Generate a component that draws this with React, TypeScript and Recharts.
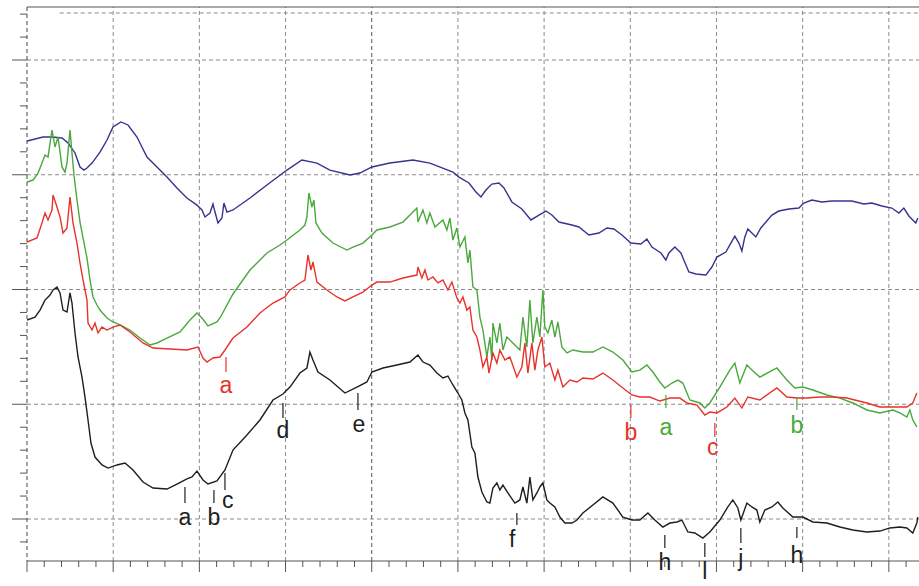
import React from 'react';
import { LineChart, Line, XAxis, YAxis, ReferenceLine, ReferenceDot } from 'recharts';

// Axis extents (major grid step = 1 unit on both axes)
const X_MAX = 10.35;
const Y_MIN = -0.366;
const Y_MAX = 4.462;

const X_TICKS = Array.from({ length: 52 }, (_, i) => +(i * 0.2).toFixed(1));
const Y_TICKS = Array.from({ length: 24 }, (_, i) => +(-0.2 + i * 0.2).toFixed(1));
const X_GRID = [1, 2, 3, 4, 5, 6, 7, 8, 9, 10];
const Y_GRID = [0, 1, 2, 3, 4];

// Spectra as [x, y] pairs
const blueTrace: [number, number][] = [
  [0, 3.294], [0.186, 3.329], [0.29, 3.329], [0.406, 3.32], [0.476, 3.277], [0.557, 3.19], [0.615, 3.068],
  [0.661, 3.041], [0.696, 3.059], [0.754, 3.102], [0.847, 3.198], [0.928, 3.303], [0.998, 3.416], [1.09, 3.46],
  [1.172, 3.434], [1.276, 3.329], [1.392, 3.155], [1.508, 3.068], [1.624, 2.98], [1.74, 2.885], [1.856, 2.797],
  [1.972, 2.736], [2.03, 2.693], [2.065, 2.632], [2.123, 2.667], [2.158, 2.745], [2.181, 2.675], [2.216, 2.58],
  [2.262, 2.623], [2.285, 2.754], [2.32, 2.675], [2.39, 2.693], [2.587, 2.797], [2.784, 2.911], [3.016, 3.041],
  [3.19, 3.129], [3.364, 3.102], [3.515, 3.041], [3.747, 2.998], [3.863, 3.015], [4.002, 3.068], [4.211, 3.102],
  [4.478, 3.129], [4.675, 3.102], [4.942, 3.024], [5.012, 2.98], [5.128, 2.928], [5.209, 2.85], [5.267, 2.806],
  [5.325, 2.867], [5.394, 2.919], [5.476, 2.928], [5.534, 2.885], [5.626, 2.763], [5.742, 2.702], [5.847, 2.606],
  [5.94, 2.649], [6.021, 2.684], [6.09, 2.649], [6.172, 2.588], [6.323, 2.562], [6.404, 2.545], [6.52, 2.475],
  [6.636, 2.492], [6.729, 2.536], [6.81, 2.527], [6.903, 2.475], [7.007, 2.405], [7.123, 2.397], [7.193, 2.44],
  [7.251, 2.37], [7.355, 2.318], [7.413, 2.257], [7.448, 2.318], [7.517, 2.37], [7.587, 2.318], [7.68, 2.153],
  [7.761, 2.135], [7.877, 2.126], [7.947, 2.196], [8.005, 2.283], [8.109, 2.327], [8.167, 2.405], [8.213, 2.466],
  [8.26, 2.405], [8.295, 2.336], [8.329, 2.458], [8.364, 2.527], [8.411, 2.492], [8.457, 2.458], [8.515, 2.536],
  [8.643, 2.649], [8.724, 2.684], [8.84, 2.702], [8.956, 2.71], [9.014, 2.754], [9.107, 2.78], [9.223, 2.763],
  [9.339, 2.771], [9.571, 2.771], [9.71, 2.745], [9.803, 2.754], [9.919, 2.728], [10.035, 2.71], [10.116, 2.667],
  [10.174, 2.71], [10.232, 2.641], [10.313, 2.58], [10.336, 2.623],
];

const greenTrace: [number, number][] = [
  [0, 2.937], [0.07, 2.954], [0.128, 3.015], [0.174, 3.102], [0.209, 3.172], [0.244, 3.155], [0.29, 3.39],
  [0.325, 3.242], [0.36, 3.329], [0.406, 3.068], [0.441, 3.024], [0.464, 3.102], [0.499, 3.39], [0.522, 3.19],
  [0.545, 2.998], [0.58, 2.78], [0.615, 2.588], [0.65, 2.449], [0.696, 2.275], [0.731, 2.083], [0.766, 1.935],
  [0.812, 1.865], [0.847, 1.821], [0.928, 1.752], [0.998, 1.717], [1.079, 1.691], [1.195, 1.647], [1.311, 1.577],
  [1.427, 1.516], [1.508, 1.534], [1.624, 1.577], [1.775, 1.63], [1.891, 1.734], [1.972, 1.795], [2.03, 1.752],
  [2.1, 1.682], [2.204, 1.717], [2.239, 1.752], [2.39, 1.961], [2.587, 2.17], [2.784, 2.318], [2.935, 2.388],
  [3.016, 2.431], [3.167, 2.519], [3.225, 2.562], [3.248, 2.632], [3.271, 2.841], [3.306, 2.719], [3.329, 2.78],
  [3.353, 2.58], [3.422, 2.492], [3.55, 2.405], [3.712, 2.344], [3.782, 2.37], [3.898, 2.405], [4.002, 2.475],
  [4.06, 2.519], [4.211, 2.545], [4.362, 2.588], [4.524, 2.71], [4.536, 2.588], [4.594, 2.693], [4.64, 2.58],
  [4.675, 2.667], [4.733, 2.545], [4.826, 2.606], [4.872, 2.519], [4.907, 2.623], [4.942, 2.431], [4.988, 2.536],
  [5.023, 2.37], [5.081, 2.458], [5.116, 2.231], [5.139, 2.344], [5.174, 2.022], [5.22, 1.996], [5.255, 1.76],
  [5.29, 1.647], [5.336, 1.412], [5.371, 1.586], [5.394, 1.386], [5.406, 1.708], [5.452, 1.534], [5.487, 1.708],
  [5.522, 1.473], [5.568, 1.586], [5.638, 1.534], [5.719, 1.473], [5.754, 1.76], [5.8, 1.499], [5.835, 1.908],
  [5.87, 1.534], [5.916, 1.76], [5.951, 1.586], [5.986, 1.996], [6.009, 1.673], [6.044, 1.621], [6.09, 1.734],
  [6.125, 1.586], [6.16, 1.717], [6.206, 1.499], [6.265, 1.447], [6.334, 1.473], [6.45, 1.455], [6.566, 1.455],
  [6.682, 1.499], [6.798, 1.455], [6.914, 1.386], [7.019, 1.281], [7.111, 1.298], [7.193, 1.342], [7.262, 1.281],
  [7.343, 1.194], [7.401, 1.142], [7.483, 1.185], [7.552, 1.211], [7.61, 1.185], [7.691, 1.037], [7.807, 1.011],
  [7.865, 0.967], [7.923, 1.011], [8.039, 1.15], [8.155, 1.298], [8.213, 1.359], [8.271, 1.185], [8.353, 1.342],
  [8.411, 1.298], [8.503, 1.237], [8.701, 1.316], [8.817, 1.211], [8.91, 1.142], [9.002, 1.15], [9.118, 1.124],
  [9.281, 1.081], [9.432, 1.054], [9.582, 1.011], [9.745, 0.95], [9.896, 0.924], [10.046, 0.95], [10.128, 0.924],
  [10.209, 0.889], [10.244, 0.95], [10.278, 0.863], [10.325, 0.802],
];

const redTrace: [number, number][] = [
  [0, 2.414], [0.116, 2.449], [0.174, 2.58], [0.209, 2.667], [0.244, 2.606], [0.29, 2.693], [0.302, 2.824],
  [0.348, 2.719], [0.383, 2.632], [0.418, 2.492], [0.464, 2.536], [0.499, 2.806], [0.534, 2.58], [0.58, 2.405],
  [0.615, 2.231], [0.65, 2.083], [0.696, 1.908], [0.708, 1.708], [0.754, 1.647], [0.789, 1.708], [0.824, 1.621],
  [0.87, 1.673], [0.928, 1.647], [0.998, 1.673], [1.079, 1.691], [1.195, 1.63], [1.346, 1.534], [1.462, 1.49],
  [1.659, 1.481], [1.856, 1.473], [1.984, 1.499], [2.042, 1.403], [2.088, 1.368], [2.158, 1.403], [2.239, 1.412],
  [2.297, 1.473], [2.39, 1.577], [2.552, 1.673], [2.703, 1.795], [2.854, 1.882], [2.993, 1.935], [3.051, 1.996],
  [3.167, 2.057], [3.225, 2.083], [3.26, 2.301], [3.295, 2.17], [3.318, 2.24], [3.364, 2.065], [3.48, 1.996],
  [3.596, 1.935], [3.689, 1.9], [3.782, 1.935], [3.898, 1.978], [4.002, 2.039], [4.06, 2.065], [4.211, 2.065],
  [4.362, 2.1], [4.524, 2.126], [4.536, 2.196], [4.582, 2.1], [4.617, 2.17], [4.652, 2.083], [4.71, 2.109],
  [4.768, 2.057], [4.826, 2.083], [4.884, 1.996], [4.93, 2.065], [4.988, 1.926], [5.023, 1.882], [5.058, 1.935],
  [5.104, 1.821], [5.139, 1.848], [5.174, 1.647], [5.22, 1.586], [5.255, 1.473], [5.29, 1.325], [5.336, 1.412],
  [5.36, 1.272], [5.406, 1.447], [5.452, 1.359], [5.487, 1.473], [5.545, 1.386], [5.603, 1.412], [5.684, 1.237],
  [5.742, 1.325], [5.777, 1.534], [5.812, 1.272], [5.858, 1.534], [5.893, 1.298], [5.928, 1.473], [5.974, 1.586],
  [6.009, 1.325], [6.067, 1.359], [6.125, 1.211], [6.16, 1.298], [6.218, 1.15], [6.299, 1.211], [6.381, 1.194],
  [6.45, 1.229], [6.566, 1.22], [6.682, 1.272], [6.798, 1.211], [6.914, 1.142], [7.019, 1.081], [7.111, 1.063],
  [7.227, 1.063], [7.343, 1.028], [7.459, 1.054], [7.575, 1.054], [7.657, 1.011], [7.773, 0.993], [7.865, 0.906],
  [7.923, 0.932], [8.005, 0.924], [8.121, 0.976], [8.213, 1.054], [8.295, 0.967], [8.364, 1.063], [8.503, 1.037],
  [8.701, 1.142], [8.817, 1.063], [8.933, 1.054], [9.049, 1.054], [9.2, 1.063], [9.35, 1.063], [9.513, 1.054],
  [9.745, 1.011], [9.896, 0.976], [10.046, 0.976], [10.128, 0.976], [10.209, 0.976], [10.278, 1.011], [10.325, 1.098],
];

const blackTrace: [number, number][] = [
  [0, 1.734], [0.093, 1.76], [0.151, 1.821], [0.209, 1.908], [0.267, 1.952], [0.302, 1.996], [0.348, 2.022],
  [0.383, 1.97], [0.418, 1.821], [0.464, 1.804], [0.499, 1.97], [0.522, 1.882], [0.557, 1.621], [0.592, 1.412],
  [0.638, 1.237], [0.673, 1.063], [0.708, 0.863], [0.742, 0.662], [0.789, 0.54], [0.87, 0.471], [0.94, 0.444],
  [1.044, 0.471], [1.137, 0.488], [1.23, 0.427], [1.346, 0.322], [1.462, 0.27], [1.624, 0.261], [1.74, 0.305],
  [1.856, 0.349], [1.914, 0.366], [1.972, 0.418], [2.042, 0.34], [2.1, 0.305], [2.204, 0.331], [2.297, 0.427],
  [2.39, 0.601], [2.552, 0.732], [2.703, 0.863], [2.854, 1.037], [2.97, 1.089], [3.051, 1.15], [3.167, 1.272],
  [3.248, 1.316], [3.283, 1.455], [3.318, 1.386], [3.376, 1.281], [3.515, 1.211], [3.689, 1.098], [3.828, 1.15],
  [3.944, 1.194], [4.002, 1.281], [4.13, 1.316], [4.292, 1.342], [4.443, 1.368], [4.536, 1.429], [4.594, 1.368],
  [4.675, 1.342], [4.756, 1.272], [4.826, 1.229], [4.884, 1.246], [4.942, 1.168], [5.0, 1.098], [5.046, 1.037],
  [5.081, 0.924], [5.116, 0.863], [5.162, 0.627], [5.197, 0.575], [5.232, 0.366], [5.278, 0.235], [5.336, 0.148],
  [5.371, 0.139], [5.406, 0.27], [5.452, 0.314], [5.487, 0.253], [5.522, 0.296], [5.58, 0.227], [5.661, 0.139],
  [5.719, 0.166], [5.754, 0.279], [5.8, 0.139], [5.835, 0.366], [5.87, 0.166], [5.916, 0.227], [5.951, 0.279],
  [5.986, 0.314], [6.032, 0.166], [6.067, 0.139], [6.125, 0.105], [6.183, 0.017], [6.241, -0.035], [6.323, -0.035],
  [6.381, -0.009], [6.45, 0.052], [6.566, 0.122], [6.682, 0.192], [6.798, 0.139], [6.914, 0.017], [7.019, -0.009],
  [7.111, -0.009], [7.204, 0.052], [7.285, -0.009], [7.378, -0.07], [7.459, -0.035], [7.541, -0.026], [7.599, -0.009],
  [7.668, -0.113], [7.749, -0.122], [7.842, -0.166], [7.923, -0.113], [8.039, -0.009], [8.132, 0.105], [8.19, 0.166],
  [8.248, 0.096], [8.283, -0.009], [8.353, 0.139], [8.411, 0.105], [8.469, 0.078], [8.503, -0.026], [8.561, 0.078],
  [8.643, 0.105], [8.712, 0.148], [8.77, 0.096], [8.886, 0.017], [9.002, 0.017], [9.118, -0.026], [9.281, -0.035],
  [9.432, -0.07], [9.582, -0.096], [9.745, -0.113], [9.896, -0.105], [10.012, -0.078], [10.128, -0.07],
  [10.209, -0.078], [10.278, -0.122], [10.325, -0.035], [10.336, 0.017],
];

// Band assignments: letter, band position, marker span, label anchor
type Mark = { text: string; x: number; top: number; bottom: number; lx: number; ly: number };

const blackMarks: Mark[] = [
  { text: 'a', x: 1.833, top: 0.279, bottom: 0.139, lx: 1.833, ly: 0.016 },
  { text: 'b', x: 2.169, top: 0.253, bottom: 0.139, lx: 2.169, ly: 0.016 },
  { text: 'c', x: 2.297, top: 0.401, bottom: 0.253, lx: 2.33, ly: 0.164 },
  { text: 'd', x: 2.97, top: 1.011, bottom: 0.88, lx: 2.97, ly: 0.774 },
  { text: 'e', x: 3.84, top: 1.098, bottom: 0.95, lx: 3.852, ly: 0.826 },
  { text: 'f', x: 5.684, top: 0.052, bottom: -0.052, lx: 5.63, ly: -0.176 },
  { text: 'h', x: 7.401, top: -0.139, bottom: -0.253, lx: 7.401, ly: -0.376 },
  { text: 'l', x: 7.865, top: -0.209, bottom: -0.331, lx: 7.865, ly: -0.45 },
  { text: 'j', x: 8.283, top: -0.078, bottom: -0.209, lx: 8.283, ly: -0.342 },
  { text: 'h', x: 8.933, top: -0.07, bottom: -0.166, lx: 8.933, ly: -0.315 },
];

const redMarks: Mark[] = [
  { text: 'a', x: 2.309, top: 1.412, bottom: 1.281, lx: 2.309, ly: 1.166 },
  { text: 'b', x: 7.007, top: 0.993, bottom: 0.88, lx: 7.007, ly: 0.756 },
  { text: 'c', x: 7.981, top: 0.837, bottom: 0.715, lx: 7.958, ly: 0.626 },
];

const greenMarks: Mark[] = [
  { text: 'a', x: 7.413, top: 1.081, bottom: 0.967, lx: 7.413, ly: 0.8 },
  { text: 'b', x: 8.933, top: 1.063, bottom: 0.95, lx: 8.933, ly: 0.817 },
];

const toPoints = (trace: [number, number][]) => trace.map(([x, y]) => ({ x, y }));

const series = [
  { id: 'blue', data: toPoints(blueTrace), color: '#34348f' },
  { id: 'green', data: toPoints(greenTrace), color: '#4aa83c' },
  { id: 'red', data: toPoints(redTrace), color: '#e8322b' },
  { id: 'black', data: toPoints(blackTrace), color: '#1e1e1e' },
];

const markGroups = [
  { id: 'black', marks: blackMarks, color: '#1e1e1e' },
  { id: 'red', marks: redMarks, color: '#e8322b' },
  { id: 'green', marks: greenMarks, color: '#4aa83c' },
];

const isMajor = (v: number) => Math.abs(v - Math.round(v)) < 1e-6;

function BottomTick(props: any) {
  const { x, y, payload } = props;
  const len = isMajor(payload.value) ? 11 : 6;
  return <line x1={x} x2={x} y1={y} y2={y + len} stroke="#555" strokeWidth={1} />;
}

function LeftTick(props: any) {
  const { x, y, payload } = props;
  const len = isMajor(payload.value) ? 15 : 7;
  return <line x1={x - len} x2={x} y1={y} y2={y} stroke="#555" strokeWidth={1} />;
}

const GRID = '#8a8a8a';

export default function App() {
  return (
    <div style={{ position: 'absolute', left: 0, top: 0, background: '#fff' }}>
      <LineChart width={919} height={586} margin={{ top: 7, right: 0, bottom: 0, left: 0 }}>
        <XAxis
          dataKey="x"
          type="number"
          domain={[0, X_MAX]}
          ticks={X_TICKS}
          interval={0}
          allowDataOverflow
          height={25}
          tickSize={0}
          tickMargin={0}
          tickLine={false}
          tick={<BottomTick />}
          axisLine={{ stroke: '#555' }}
        />
        <YAxis
          type="number"
          domain={[Y_MIN, Y_MAX]}
          ticks={Y_TICKS}
          interval={0}
          allowDataOverflow
          width={27}
          tickSize={0}
          tickMargin={0}
          tickLine={false}
          tick={<LeftTick />}
          axisLine={{ stroke: '#444', strokeDasharray: '4 3' }}
        />
        {X_GRID.map((v) => (
          <ReferenceLine
            key={`vx${v}`}
            x={v}
            stroke={v === 4 ? '#555' : GRID}
            strokeDasharray="4 3"
            strokeWidth={1}
          />
        ))}
        {Y_GRID.map((v) => (
          <ReferenceLine key={`hy${v}`} y={v} stroke={GRID} strokeDasharray="4 3" strokeWidth={1} />
        ))}
        <ReferenceLine
          segment={[{ x: 0.38, y: 4.41 }, { x: X_MAX, y: 4.41 }]}
          stroke={GRID}
          strokeDasharray="4 3"
        />
        <ReferenceLine y={Y_MAX} stroke="#555" strokeWidth={1} />
        {series.map((s) => (
          <Line
            key={s.id}
            data={s.data}
            dataKey="y"
            type="linear"
            stroke={s.color}
            strokeWidth={1.4}
            dot={false}
            activeDot={false}
            isAnimationActive={false}
          />
        ))}
        {markGroups.map((g) =>
          g.marks.map((m, i) => (
            <ReferenceLine
              key={`${g.id}-t${i}`}
              segment={[{ x: m.x, y: m.top }, { x: m.x, y: m.bottom }]}
              stroke={g.color}
              strokeWidth={1.2}
            />
          ))
        )}
        {markGroups.map((g) =>
          g.marks.map((m, i) => (
            <ReferenceDot
              key={`${g.id}-l${i}`}
              x={m.lx}
              y={m.ly}
              r={0}
              fill="none"
              stroke="none"
              ifOverflow="visible"
              label={{
                value: m.text,
                position: 'center',
                fill: g.color,
                fontSize: 23,
                fontFamily: 'Liberation Sans, Arial, sans-serif',
              }}
            />
          ))
        )}
      </LineChart>
    </div>
  );
}
